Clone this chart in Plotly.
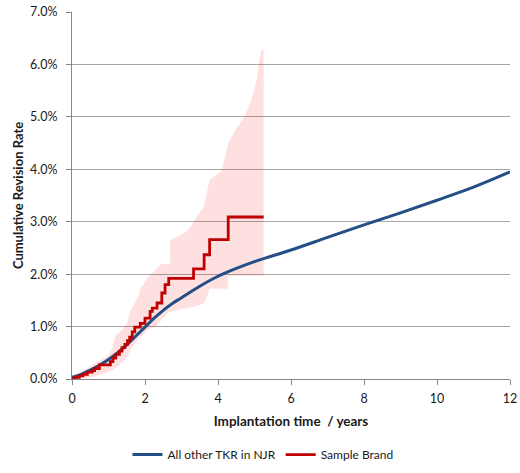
import plotly.graph_objects as go

# Cumulative revision rate (%) for all other TKR in the NJR
blue_years = [0, 0.25, 0.5, 0.75, 1, 1.25, 1.5, 1.75, 2, 2.25, 2.5, 2.75, 3, 3.5,
              4, 4.5, 5, 5.5, 6, 7, 8, 9, 10, 11, 12]
blue_rate = [0.03, 0.09, 0.17, 0.26, 0.37, 0.50, 0.65, 0.82, 0.99, 1.16, 1.31, 1.44,
             1.55, 1.77, 1.96, 2.11, 2.24, 2.35, 2.46, 2.70, 2.94, 3.17, 3.41, 3.66, 3.95]

# Kaplan-Meier style step estimate for the sample brand
brand_years = [0, 0.08, 0.2, 0.3, 0.42, 0.55, 0.62, 0.75, 1.05, 1.12, 1.2, 1.3, 1.37,
               1.45, 1.52, 1.58, 1.65, 1.72, 1.87, 2.0, 2.14, 2.2, 2.33, 2.46, 2.55,
               2.65, 3.33, 3.62, 3.77, 4.28, 5.25]
brand_rate = [0, 0.03, 0.06, 0.09, 0.13, 0.16, 0.20, 0.27, 0.33, 0.40, 0.47, 0.53, 0.60,
              0.66, 0.73, 0.80, 0.90, 0.99, 1.06, 1.16, 1.29, 1.35, 1.45, 1.64, 1.80,
              1.92, 2.10, 2.37, 2.66, 3.09, 3.09]

# 95% confidence band for the sample brand
upper_years = [0, 0.25, 0.5, 0.75, 1.0, 1.12, 1.18, 1.35, 1.5, 1.6, 1.72, 1.8, 1.9, 2.1,
               2.25, 2.45, 2.69, 2.69, 3.0, 3.2, 3.33, 3.62, 3.77, 4.1, 4.28, 4.5, 4.7,
               4.85, 4.97, 5.06, 5.11, 5.18, 5.25]
upper_rate = [0, 0.12, 0.25, 0.35, 0.45, 0.60, 0.82, 0.93, 1.05, 1.30, 1.45, 1.56, 1.75,
              1.95, 2.05, 2.20, 2.20, 2.65, 2.75, 2.85, 3.00, 3.30, 3.80, 3.97, 4.50,
              4.78, 4.97, 5.20, 5.45, 5.70, 6.00, 6.25, 6.30]
lower_years = [0, 0.5, 0.75, 1.0, 1.2, 1.35, 1.5, 1.6, 1.7, 1.8, 1.95, 2.1, 2.3, 2.65,
               3.33, 3.62, 3.78, 4.27, 4.27, 5.25]
lower_rate = [0, 0.03, 0.08, 0.14, 0.22, 0.30, 0.42, 0.55, 0.65, 0.75, 0.85, 0.95, 1.0,
              1.28, 1.38, 1.45, 1.72, 1.72, 1.97, 1.97]

x_ticks = [0, 2, 4, 6, 8, 10, 12]

font = "Lato, 'Open Sans', sans-serif"
ink = "#1A1A1A"
grid = "#A6A6A6"
axis_grey = "#868686"

fig = go.Figure()

# confidence band as a closed polygon
fig.add_trace(go.Scatter(
    x=upper_years + lower_years[::-1],
    y=upper_rate + lower_rate[::-1],
    fill="toself", fillcolor="rgba(255,0,0,0.12)",
    line=dict(width=0), mode="lines", hoverinfo="skip", showlegend=False,
))

fig.add_trace(go.Scatter(
    x=blue_years, y=blue_rate, mode="lines", name="All other TKR in NJR",
    line=dict(color="#234E86", width=3, shape="spline"),
))

fig.add_trace(go.Scatter(
    x=brand_years, y=brand_rate, mode="lines", name="Sample Brand",
    line=dict(color="#C00000", width=2.8, shape="hv"),
))

fig.update_layout(
    width=520, height=473,
    margin=dict(l=72, r=10, t=12, b=94, autoexpand=False),
    paper_bgcolor="white", plot_bgcolor="white",
    font=dict(family=font, size=12.5, color=ink),
    showlegend=True,
    legend=dict(orientation="h", x=0.436, xanchor="center", y=-0.206, yanchor="middle",
                font=dict(size=12, color=ink), itemwidth=30,
                traceorder="normal"),
    xaxis=dict(
        range=[0, 12], tickvals=x_ticks, ticks="outside", ticklen=5,
        tickcolor=axis_grey, showline=True, linecolor=axis_grey, linewidth=1,
        showgrid=False, zeroline=False, ticklabelstandoff=3, automargin=False,
        title=dict(text="<b>Implantation time  / years</b>", standoff=11,
                   font=dict(size=13.5)),
    ),
    yaxis=dict(
        range=[0, 7], dtick=1, tickformat=".1f", ticksuffix="%", ticks="outside",
        ticklen=5, tickcolor=axis_grey, showline=True, linecolor=axis_grey,
        linewidth=1, showgrid=True, gridcolor=grid, gridwidth=1, zeroline=False,
        ticklabelstandoff=6, automargin=False,
        title=dict(text="<b>Cumulative Revision Rate</b>", standoff=3,
                   font=dict(size=13)),
    ),
)

fig.write_html("out.html")
